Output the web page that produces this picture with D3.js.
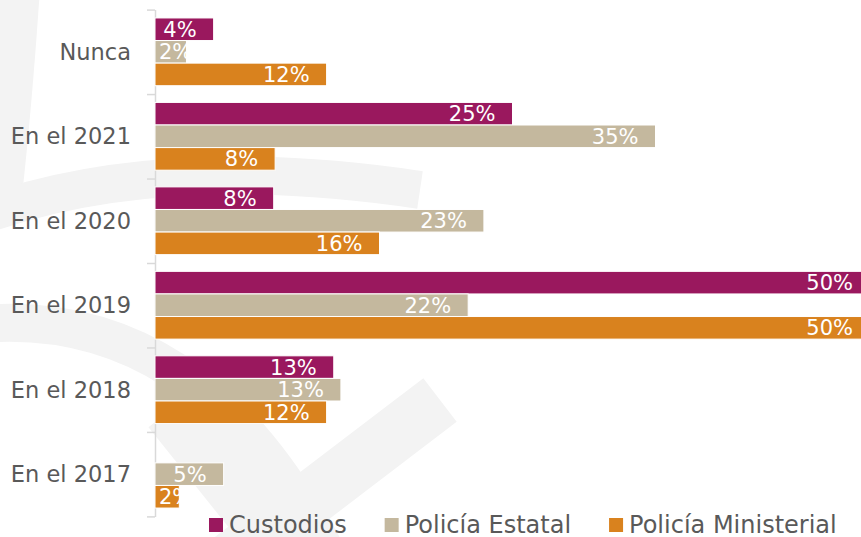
<!DOCTYPE html>
<html>
<head>
<meta charset="utf-8">
<script src="https://cdn.jsdelivr.net/npm/d3@7"></script>
<style>
  body { margin: 0; background: #fff; }
  svg { display: block; font-family: "DejaVu Sans", sans-serif; }
</style>
</head>
<body>
<div id="chart"></div>
<script>
// categories top to bottom, values in %
const categories = ["Nunca", "En el 2021", "En el 2020", "En el 2019", "En el 2018", "En el 2017"];
const seriesNames = ["Custodios", "Policía Estatal", "Policía Ministerial"];
const custodios = [4.1, 25, 8.3, 50, 12.5, 0];
const estatal = [2.2, 35, 23, 21.9, 13, 4.8];
const ministerial = [12, 8.4, 15.7, 50, 12, 1.7];
const colors = ["#9a185e", "#c4b89e", "#d9821e"];

const width = 861, height = 537;

var svg = d3.select("#chart").append("svg")
    .attr("width", width)
    .attr("height", height);

// faint watermark shapes in the background
var wm = svg.append("g")
    .attr("fill", "none")
    .attr("stroke", "#f3f3f3");
wm.append("path").attr("stroke-width", 45)
    .attr("d", "M18,-20 Q10,100 0,190");
wm.append("path").attr("stroke-width", 38)
    .attr("d", "M-30,220 Q150,150 420,190");
wm.append("path").attr("stroke-width", 38)
    .attr("d", "M-30,325 Q200,300 330,560");
wm.append("path").attr("stroke-width", 55)
    .attr("d", "M170,410 L290,560");
wm.append("path").attr("stroke-width", 55)
    .attr("d", "M440,400 L230,560");

var x = d3.scaleLinear().domain([0, 50]).range([155, 870]);
var y0 = d3.scaleBand().domain(categories).range([9.6, 516.4]);
var y1 = d3.scaleBand().domain(seriesNames).range([0, y0.bandwidth()])
    .paddingInner(0).paddingOuter(0.37);

var data = categories.map(function(c, i) {
    return {
        cat: c,
        vals: [custodios[i], estatal[i], ministerial[i]].map(function(v, j) {
            return { name: seriesNames[j], value: v, color: colors[j] };
        })
    };
});

// axis with ticks on the band boundaries
var edges = d3.scaleLinear().domain([0, categories.length]).range(y0.range());
var axis = svg.append("g")
    .attr("transform", "translate(" + x(0) + ",0)")
    .call(d3.axisLeft(edges).ticks(categories.length).tickFormat("").tickSize(8).tickSizeOuter(0));
axis.selectAll("path, line").attr("stroke", "#d9d9d9").attr("stroke-width", 1.5);

// category labels
svg.append("g").selectAll("text")
    .data(categories)
    .enter()
    .append("text")
    .attr("x", 131)
    .attr("y", function(d) { return y0(d) + y0.bandwidth() / 2; })
    .attr("dy", "0.36em")
    .attr("text-anchor", "end")
    .attr("font-size", 22.5)
    .attr("fill", "#595959")
    .text(function(d) { return d; });

var groups = svg.append("g").selectAll("g")
    .data(data)
    .enter()
    .append("g")
    .attr("transform", function(d) { return "translate(0," + y0(d.cat) + ")"; });

groups.selectAll("rect")
    .data(function(d) { return d.vals.filter(function(v) { return v.value > 0; }); })
    .enter()
    .append("rect")
    .attr("x", x(0))
    .attr("y", function(d) { return y1(d.name); })
    .attr("width", function(d) { return x(d.value) - x(0); })
    .attr("height", y1.bandwidth())
    .attr("fill", function(d) { return d.color; })
    .attr("stroke", "#fff")
    .attr("stroke-width", 1);

// value labels, inside the bar end
var labels = groups.selectAll("text")
    .data(function(d) { return d.vals.filter(function(v) { return v.value > 0; }); })
    .enter()
    .append("text")
    .attr("y", function(d) { return y1(d.name) + y1.bandwidth() / 2; })
    .attr("dy", "0.36em")
    .attr("font-size", 21)
    .attr("fill", "#fff")
    .text(function(d) { return Math.round(d.value) + "%"; });

labels.each(function(d) {
    var t = d3.select(this);
    var w = this.getComputedTextLength();
    var end = x(d.value), barW = end - x(0);
    if (w + 25 > barW) {
        // too short: centre on the bar, but not left of the axis
        var start = Math.max(x(0) + barW / 2 - w / 2, x(0) + 4);
        t.attr("x", start).attr("text-anchor", "start");
    } else {
        t.attr("x", end - 17).attr("text-anchor", "end");
    }
});

// legend
var legend = svg.append("g");
var lx = 209;
seriesNames.forEach(function(name, i) {
    legend.append("rect")
        .attr("x", lx).attr("y", 518)
        .attr("width", 14).attr("height", 14)
        .attr("fill", colors[i]);
    var t = legend.append("text")
        .attr("x", lx + 20).attr("y", 532.5)
        .attr("font-size", 24)
        .attr("fill", "#595959")
        .text(name);
    lx += 20 + t.node().getComputedTextLength() + 38;
});
</script>
</body>
</html>
